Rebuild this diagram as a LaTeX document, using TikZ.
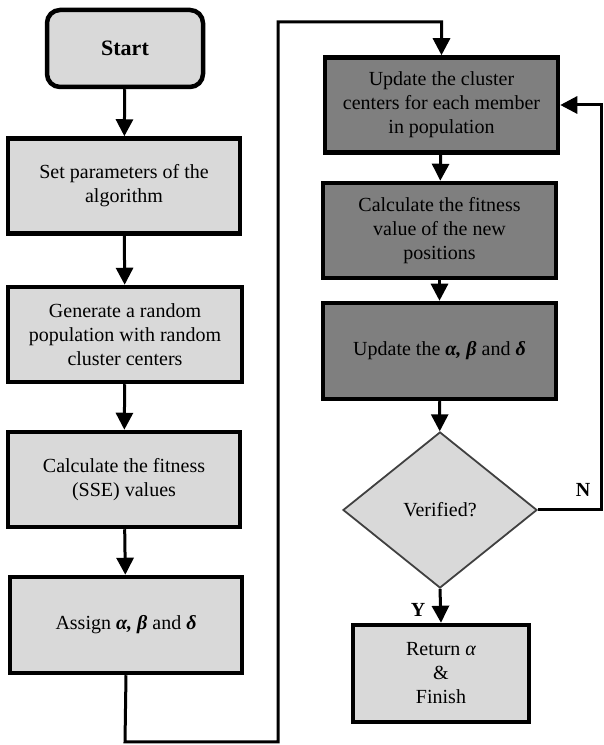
\documentclass[tikz,border=0pt]{standalone}
\usepackage{fontspec}
\IfFontExistsTF{LiberationSerif-Regular.ttf}{%
  \setmainfont{LiberationSerif}[Extension=.ttf, UprightFont=*-Regular, BoldFont=*-Bold, ItalicFont=*-Italic, BoldItalicFont=*-BoldItalic]}{%
  \setmainfont{Liberation Serif}}
\usetikzlibrary{shapes.geometric,arrows.meta,shadows}
\definecolor{lightbox}{HTML}{D9D9D9}
\definecolor{darkbox}{HTML}{7F7F7F}
\definecolor{diaedge}{HTML}{404040}
\begin{document}
\begin{tikzpicture}[x=1pt,y=1pt,
  every node/.style={font=\rmfamily\fontsize{20}{24}\selectfont, align=center, inner sep=0pt},
  lbox/.style={draw=black, line width=4.5pt, fill=lightbox, minimum width=#1, minimum height=95pt},
  dbox/.style={draw=black, line width=4.5pt, fill=darkbox, minimum width=233pt, minimum height=95pt},
  conn/.style={line width=3pt, -{Triangle[width=17pt,length=17pt]}},
  lbl/.style={font=\rmfamily\fontsize{20}{24}\selectfont\bfseries}
]
\useasboundingbox (0,0) rectangle (603,745);

\node[draw=black, line width=4.5pt, fill=lightbox, rounded corners=13pt,
      minimum width=156pt, minimum height=77pt, font=\rmfamily\fontsize{22}{26}\selectfont\bfseries] (start) at (125,696.5) {Start};
\node[lbox=232pt] (set) at (124,559) {Set parameters of the\\algorithm};
\node[lbox=234pt] (gen) at (125,410.5) {Generate a random\\population with random\\cluster centers};
\node[lbox=232pt] (calc) at (124,265.5) {Calculate the fitness\\(SSE) values};
\node[lbox=232pt, minimum height=96pt] (assign) at (126,120) {Assign {\bfseries\itshape α, β} and {\bfseries\itshape δ}};

\node[dbox] (upd) at (441.5,640) {Update the cluster\\centers for each member\\in population};
\node[dbox] (calcn) at (439.5,514.5) {Calculate the fitness\\value of the new\\positions};
\node[dbox, minimum height=96pt] (upab) at (439.5,394) {Update the {\bfseries\itshape α, β} and {\bfseries\itshape δ}};
\node[diamond, draw=diaedge, line width=1.8pt, fill=lightbox, minimum width=194pt, minimum height=156pt] (ver) at (440,235) {Verified?};
\node[lbox=176pt, minimum height=97pt, drop shadow={opacity=0.25, shadow xshift=1pt, shadow yshift=-1pt}] (ret) at (441,71.5) {Return {\itshape α}\\\&\\Finish};

\coordinate (b1) at (125,3);
\coordinate (b2) at (278,3);
\coordinate (b3) at (278,723);
\coordinate (b4) at (441.5,723);
\coordinate (n1) at (601,235);
\coordinate (n2) at (601,640);

\draw[conn] (start) -- (set);
\draw[conn] (set) -- (gen);
\draw[conn] (gen) -- (calc);
\draw[conn] (calc) -- (assign);
\draw[conn] (assign.south) -- (b1) -- (b2) -- (b3) -- (b4) -- (upd.north);
\draw[conn] (upd) -- (calcn);
\draw[conn] (calcn) -- (upab);
\draw[conn] (upab) -- (ver);
\draw[conn] (ver.south) -- (ret.north);
\draw[conn] (ver.east) -- (n1) -- (n2) -- (upd.east);

\node[lbl] (N) at (583,255) {N};
\node[lbl] (Y) at (418,135) {Y};
\end{tikzpicture}
\end{document}
